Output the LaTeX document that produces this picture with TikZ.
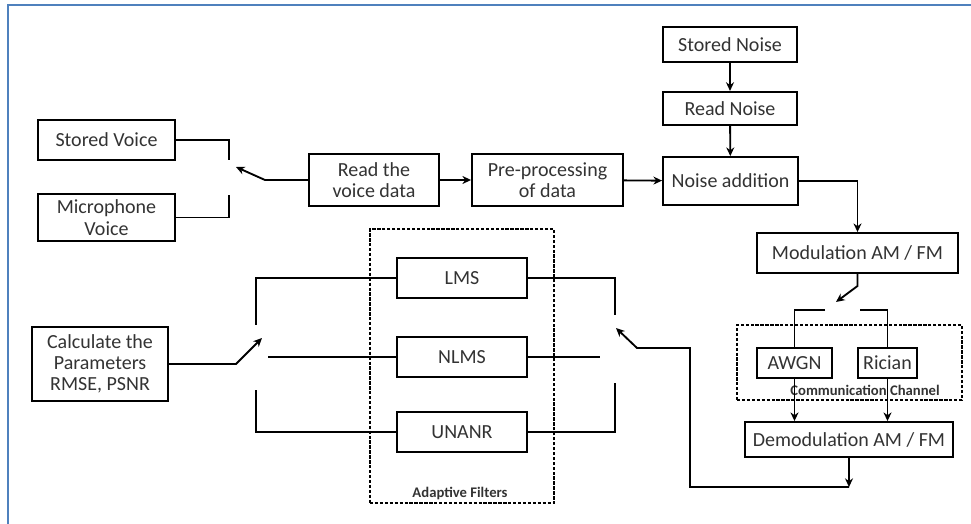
\documentclass[tikz,border=0pt]{standalone}
\usepackage{fontspec}
\setmainfont{Carlito}
\usepackage{tikz}
\usetikzlibrary{positioning}
\usetikzlibrary{arrows.meta}

\definecolor{frameblue}{HTML}{4F81BD}

\tikzset{
  block/.style={draw, rectangle, line width=1.4pt, fill=white, align=center,
    inner sep=0pt, text=black!80, font=\fontsize{15}{16}\selectfont},
  group/.style={draw, rectangle, line width=1.3pt, dash pattern=on 2.5pt off 1.2pt},
  tag/.style={text=black!80, font=\fontsize{11}{12}\selectfont\bfseries},
  wire/.style={line width=1.4pt},
}

\begin{document}
\begin{tikzpicture}[x=0.75pt,y=-0.75pt,>={Stealth[length=6.5pt,width=6pt]},wire]
\useasboundingbox (0,0) rectangle (971,524);
\draw[frameblue, line width=2pt] (8,524) -- (8,5) -- (971,5);

% dashed groups
\node[group, minimum width=138pt, minimum height=205.5pt] (filters) at (462,366) {};
\node[tag] (filterstag) at (460,493) {Adaptive Filters};
\node[group, minimum width=168.75pt, minimum height=56.25pt] (channel) at (849.5,362.5) {};
\node[tag] (channeltag) at (865,390) {Communication Channel};

% blocks
\node[block, minimum width=102.75pt, minimum height=30pt]    (sv)  at (106.5,140)   {Stored Voice};
\node[block, minimum width=102.75pt, minimum height=35.25pt] (mv)  at (106.5,217.5) {Microphone\\Voice};
\node[block, minimum width=97.5pt,   minimum height=39pt]    (rv)  at (374,180)     {Read the\\voice data};
\node[block, minimum width=113.25pt, minimum height=39pt]    (pp)  at (547.5,180)   {Pre-processing\\of data};
\node[block, minimum width=100.5pt,  minimum height=26.25pt] (sn)  at (730,44.5)    {Stored Noise};
\node[block, minimum width=100.5pt,  minimum height=24.75pt] (rn)  [below=21pt of sn] {Read Noise};
\node[block, minimum width=101.25pt, minimum height=36pt]    (na)  at (730.5,181)   {Noise addition};
\node[block, minimum width=150.75pt, minimum height=30pt]    (mod) at (857.5,253)   {Modulation AM / FM};
\node[block, minimum width=56.25pt,  minimum height=22.5pt]  (awgn)   at (794.5,363) {AWGN};
\node[block, minimum width=44.25pt,  minimum height=22.5pt]  (rician) at (887.5,363) {Rician};
\node[block, minimum width=156pt,    minimum height=26.25pt] (demod) at (849,439.5) {Demodulation AM / FM};
\node[block, minimum width=97.5pt,   minimum height=30pt]    (lms)   at (462,278)   {LMS};
\node[block, minimum width=97.5pt,   minimum height=30pt]    (nlms)  at (462,357)   {NLMS};
\node[block, minimum width=97.5pt,   minimum height=30pt]    (unanr) at (462,432)   {UNANR};
\node[block, minimum width=102pt,    minimum height=55.5pt]  (calc)  at (100,364)   {Calculate the\\Parameters\\RMSE, PSNR};

% switch ends
\coordinate (voiceA) at (229,160);
\coordinate (voiceB) at (229,195);
\coordinate (voiceK) at (265,180);
\coordinate (voiceT) at (236,167);
\coordinate (modK)   at (857.5,286);
\coordinate (modT)   at (836,302);
\coordinate (chanL)  at (825,310);
\coordinate (chanR)  at (860,310);
\coordinate (backD)  at (849,487);
\coordinate (backU)  at (690,348);
\coordinate (backK)  at (637,348);
\coordinate (backT)  at (616,328);
\coordinate (outA)   at (615,315);
\coordinate (outB)   at (600,357);
\coordinate (outC)   at (615,383);
\coordinate (inA)    at (256,325);
\coordinate (inB)    at (268,357);
\coordinate (inC)    at (256,390);
\coordinate (calcK)  at (236,364);
\coordinate (calcT)  at (262,338);

% voice input
\draw (sv.east) -| (voiceA);
\draw (mv.east) -| (voiceB);
\draw[->] (rv.west) -- (voiceK) -- (voiceT);
\draw[->] (rv) -- (pp);
\draw[->] (pp) -- (na);
\draw[->] (sn) -- (rn);
\draw[->] (rn) -- (na);
\draw[->] (na.east) -| (mod.north);

% channel
\draw[->] (mod.south) -- (modK) -- (modT);
\draw (chanL) -| (awgn.north);
\draw (chanR) -| (rician.north);
\draw[->] (awgn.south) -- (awgn.south |- demod.north);
\draw[->] (rician.south) -- (rician.south |- demod.north);
\draw[->] (demod.south) -- (backD);
\draw[->] (backD) -| (backU) -- (backK) -- (backT);

% filters
\draw (lms.east) -| (outA);
\draw (nlms.east) -- (outB);
\draw (unanr.east) -| (outC);
\draw (lms.west) -| (inA);
\draw (nlms.west) -- (inB);
\draw (unanr.west) -| (inC);
\draw[->] (calc.east) -- (calcK) -- (calcT);
\end{tikzpicture}
\end{document}
